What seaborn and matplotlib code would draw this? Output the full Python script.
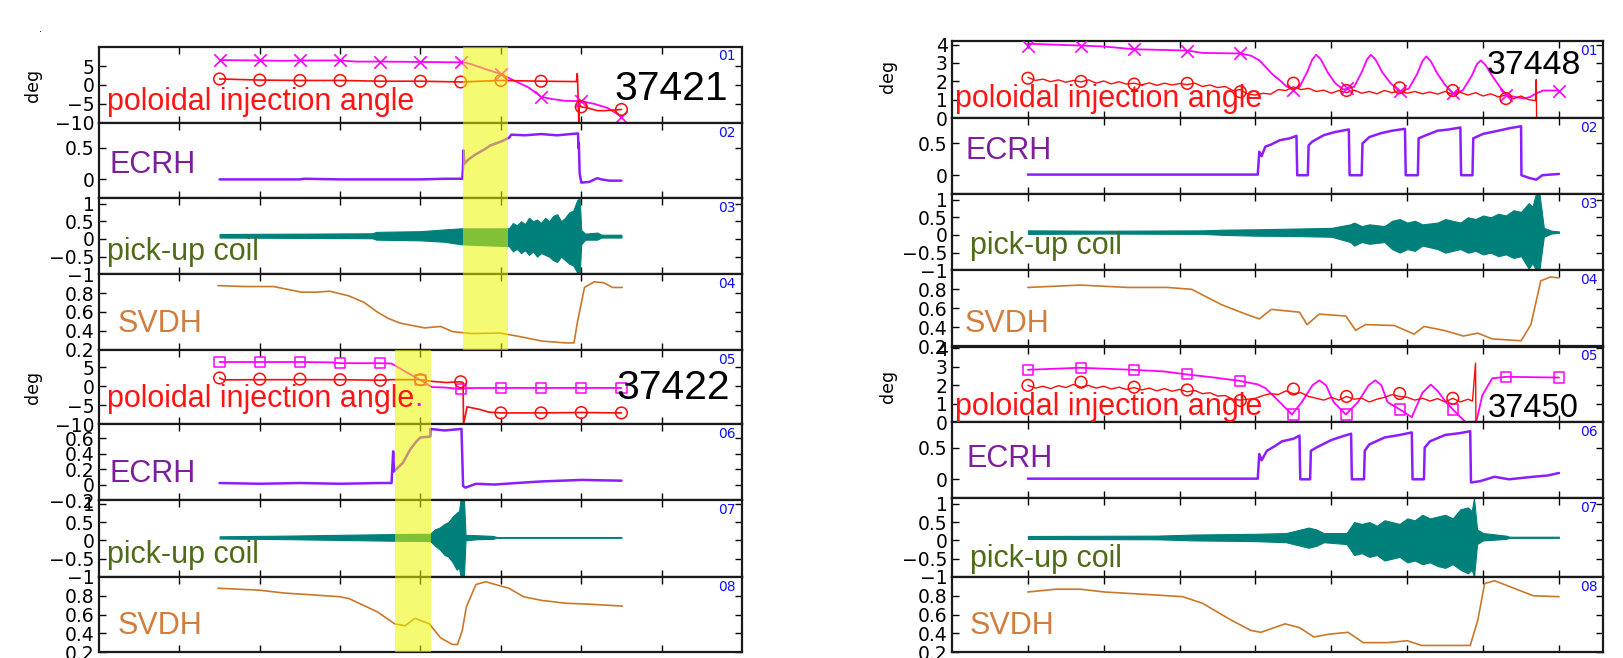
import numpy as np
import matplotlib
matplotlib.use("Agg")
import matplotlib.pyplot as plt
import seaborn as sns
from matplotlib import font_manager
from matplotlib.ticker import FuncFormatter
from matplotlib.patches import Rectangle
from matplotlib.text import Annotation
from matplotlib.transforms import blended_transform_factory

# ======================= DATA (x = time in tick units of each column) =======================
# ---------- shot 37421 ----------
a21_mag_t = [1.5, 2.0, 2.3, 2.5, 3.0, 3.2, 3.5, 4.0, 4.5, 4.56, 4.63, 4.81, 5.0, 5.16, 5.34, 5.5, 5.63, 5.8, 6.0, 6.16, 6.33, 6.5]
a21_mag_v = [6.6, 6.5, 6.4, 6.5, 6.5, 6.2, 6.2, 6.1, 6.0, 5.9, 5.5, 4.2, 2.9, 1.2, -0.6, -3.1, -3.7, -4.2, -4.3, -5.0, -6.1, -8.4]
a21_magm_t = [1.5, 2.0, 2.5, 3.0, 3.5, 4.0, 4.5, 5.0, 5.5, 6.0, 6.5]
a21_magm_v = [6.6, 6.5, 6.5, 6.5, 6.2, 6.1, 6.0, 2.9, -3.1, -4.3, -8.4]
a21_red_t = [1.5, 2.0, 2.5, 2.9, 3.0, 3.5, 4.0, 4.5, 5.0, 5.5, 5.94, 5.95, 5.955, 5.97, 5.975, 6.0, 6.1, 6.2, 6.3, 6.5]
a21_red_v = [1.6, 1.3, 1.2, 1.2, 1.2, 1.0, 1.0, 0.8, 1.2, 1.0, 0.9, 3.0, 0.9, -10, -5.0, -5.8, -6.2, -6.8, -6.8, -6.5]
a21_redm_t = [1.5, 2.0, 2.5, 3.0, 3.5, 4.0, 4.5, 5.0, 5.5, 6.0, 6.5]
a21_redm_v = [1.6, 1.3, 1.2, 1.2, 1.0, 1.0, 0.8, 1.2, 1.0, -5.8, -6.5]
e21_t = [1.5, 2.5, 2.55, 3.0, 3.5, 4.0, 4.3, 4.52, 4.53, 4.535, 4.545, 4.6, 4.69, 4.8, 4.87, 5.0, 5.1, 5.13, 5.3, 5.5, 5.7, 5.96, 5.965, 5.97, 5.98, 6.0, 6.01, 6.1, 6.2, 6.25, 6.35, 6.5]
e21_v = [0.0, 0.0, 0.01, 0.0, 0.0, 0.0, 0.01, 0.01, 0.22, 0.46, 0.25, 0.32, 0.4, 0.48, 0.54, 0.6, 0.66, 0.71, 0.7, 0.72, 0.7, 0.73, 0.5, 0.58, 0.1, -0.05, -0.05, -0.04, 0.02, 0.0, -0.02, -0.02]
p21_t = [1.5, 2.5, 3.4, 3.45, 4.0, 4.3, 4.5, 4.8, 5.1, 5.15, 5.2, 5.25, 5.3, 5.35, 5.4, 5.45, 5.5, 5.55, 5.6, 5.65, 5.7, 5.75, 5.8, 5.85, 5.9, 5.95, 5.98, 6.0, 6.05, 6.2, 6.25, 6.5]
p21_hi = [0.14, 0.15, 0.16, 0.2, 0.22, 0.27, 0.3, 0.3, 0.3, 0.45, 0.38, 0.5, 0.42, 0.6, 0.5, 0.55, 0.45, 0.6, 0.5, 0.65, 0.7, 0.5, 0.6, 0.75, 0.8, 1.1, 1.15, 0.25, 0.15, 0.18, 0.12, 0.12]
p21_lo = [0.04, 0.03, 0.02, -0.02, -0.04, -0.08, -0.15, -0.18, -0.2, -0.35, -0.28, -0.4, -0.32, -0.45, -0.35, -0.5, -0.4, -0.45, -0.5, -0.6, -0.65, -0.5, -0.6, -0.7, -0.75, -0.95, -1.0, -0.15, -0.02, -0.02, 0.04, 0.04]
s21_t = [1.48, 1.8, 2.17, 2.52, 2.7, 2.87, 3.11, 3.3, 3.46, 3.6, 3.75, 4.05, 4.25, 4.40, 4.63, 4.99, 5.22, 5.51, 5.81, 5.91, 5.95, 6.04, 6.16, 6.28, 6.39, 6.51]
s21_v = [0.88, 0.87, 0.87, 0.81, 0.81, 0.82, 0.77, 0.7, 0.6, 0.53, 0.48, 0.43, 0.445, 0.39, 0.37, 0.375, 0.34, 0.29, 0.27, 0.27, 0.48, 0.86, 0.92, 0.91, 0.86, 0.86]

# ---------- shot 37422 ----------
a22_mag_t = [1.5, 2.0, 2.5, 2.9, 3.0, 3.5, 3.64, 3.81, 3.99, 4.14, 4.3, 4.49, 4.6, 5.0, 5.5, 6.0, 6.5]
a22_mag_v = [6.4, 6.4, 6.4, 6.3, 6.1, 6.1, 6.0, 3.9, 1.75, -0.2, -0.3, -0.7, -0.45, -0.42, -0.42, -0.42, -0.42]
a22_magm_t = [1.5, 2.0, 2.5, 3.0, 3.5, 4.0, 4.5, 5.0, 5.5, 6.0, 6.5]
a22_magm_v = [6.4, 6.4, 6.4, 6.1, 6.1, 1.75, -0.7, -0.42, -0.42, -0.42, -0.42]
a22_red_t = [1.5, 1.55, 2.0, 2.5, 3.0, 3.5, 3.66, 4.0, 4.15, 4.32, 4.49, 4.53, 4.535, 4.58, 4.74, 4.85, 5.0, 5.5, 6.0, 6.5]
a22_red_v = [2.2, 1.7, 1.75, 1.75, 1.75, 1.6, 1.76, 1.76, 1.3, 1.0, 1.2, 1.0, -10, -5.4, -6.1, -6.8, -7.0, -7.0, -6.9, -7.0]
a22_redm_t = [1.5, 2.0, 2.5, 3.0, 3.5, 4.0, 4.5, 5.0, 5.5, 6.0, 6.5]
a22_redm_v = [2.2, 1.9, 1.9, 1.75, 1.6, 1.76, 1.2, -7.0, -7.0, -6.9, -7.0]
e22_t = [1.5, 2.0, 2.5, 3.0, 3.5, 3.64, 3.66, 3.665, 3.67, 3.78, 3.87, 3.95, 4.0, 4.12, 4.125, 4.3, 4.51, 4.53, 4.56, 4.69, 4.92, 5.2, 5.5, 6.0, 6.5]
e22_v = [0.02, 0.01, 0.02, 0.01, 0.02, 0.02, 0.43, 0.3, 0.17, 0.28, 0.45, 0.56, 0.61, 0.62, 0.72, 0.7, 0.72, -0.02, -0.04, 0.01, 0.0, 0.02, 0.04, 0.06, 0.05]
p22_t = [1.5, 2.4, 3.0, 3.65, 4.12, 4.18, 4.24, 4.3, 4.35, 4.4, 4.45, 4.48, 4.5, 4.54, 4.56, 4.7, 4.9, 4.95, 6.5]
p22_hi = [0.11, 0.13, 0.15, 0.17, 0.18, 0.3, 0.35, 0.45, 0.5, 0.65, 0.75, 0.8, 1.15, 1.15, 0.15, 0.14, 0.12, 0.09, 0.09]
p22_lo = [0.05, 0.03, 0.01, -0.01, -0.02, -0.15, -0.25, -0.4, -0.45, -0.6, -0.8, -0.75, -1.0, -1.0, 0.0, 0.03, 0.04, 0.07, 0.07]
s22_t = [1.48, 1.99, 2.29, 2.99, 3.11, 3.46, 3.68, 3.81, 3.93, 4.11, 4.25, 4.40, 4.46, 4.52, 4.57, 4.69, 4.81, 4.93, 5.10, 5.28, 5.51, 5.81, 6.10, 6.51]
s22_v = [0.88, 0.86, 0.83, 0.79, 0.77, 0.63, 0.5, 0.48, 0.56, 0.5, 0.35, 0.28, 0.28, 0.43, 0.68, 0.92, 0.95, 0.92, 0.88, 0.79, 0.75, 0.72, 0.71, 0.69]

# ---------- shot 37448 ----------
a48_mag_t = [1.0, 1.7, 2.0, 2.4, 3.1, 3.3, 3.8, 3.94, 4.05, 4.13, 4.22, 4.32, 4.4, 4.48,
             4.58, 4.68, 4.75, 4.8, 4.86, 4.95, 5.05, 5.16,
             5.3, 5.4, 5.47, 5.52, 5.58, 5.67, 5.78, 5.9,
             6.02, 6.13, 6.2, 6.25, 6.31, 6.4, 6.5, 6.6,
             6.73, 6.85, 6.92, 6.97, 7.03, 7.12, 7.22, 7.31,
             7.42, 7.54, 7.62, 7.7, 7.79, 8.0]
a48_mag_v = [4.05, 3.95, 3.9, 3.75, 3.68, 3.55, 3.52, 3.4, 3.15, 2.8, 2.4, 2.06, 1.75, 1.55,
             1.7, 2.5, 3.2, 3.45, 3.2, 2.5, 1.9, 1.55,
             1.7, 2.5, 3.2, 3.45, 3.2, 2.5, 1.9, 1.45,
             1.6, 2.4, 3.1, 3.36, 3.1, 2.4, 1.8, 1.35,
             1.5, 2.3, 2.95, 3.14, 2.9, 2.3, 1.7, 1.25,
             1.15, 1.06, 1.15, 1.34, 1.5, 1.5]
a48_magm_t = [1.0, 1.7, 2.4, 3.1, 3.8, 4.5, 5.2, 5.9, 6.6, 7.3, 8.0]
a48_magm_v = [3.95, 3.95, 3.75, 3.66, 3.52, 1.55, 1.65, 1.45, 1.35, 1.25, 1.5]
a48_red_t = [1.0, 1.1, 1.2, 1.3, 1.4, 1.5, 1.6, 1.7, 1.8, 1.9, 2.0, 2.1, 2.2, 2.3, 2.4, 2.5, 2.6, 2.7,
             2.8, 2.9, 3.0, 3.1, 3.2, 3.3, 3.4, 3.5, 3.6, 3.7, 3.8, 3.9, 4.0, 4.1, 4.2, 4.3, 4.4,
             4.5, 4.6, 4.7, 4.8, 4.9, 5.0, 5.1, 5.2, 5.3, 5.4, 5.5, 5.6, 5.7, 5.8, 5.9, 6.0, 6.1,
             6.2, 6.3, 6.4, 6.5, 6.6, 6.7, 6.8, 6.9, 7.0, 7.1, 7.2, 7.3, 7.4, 7.5, 7.6, 7.69, 7.7, 7.705]
a48_red_v = [2.22, 2.05, 2.12, 1.98, 2.08, 1.95, 2.05, 1.97, 2.08, 1.9, 2.02, 1.86, 1.98, 1.85, 1.9, 1.8, 1.92, 1.78,
             1.9, 1.8, 1.88, 1.82, 1.9, 1.72, 1.8, 1.66, 1.72, 1.5, 1.55, 1.3, 1.25, 1.35, 1.3, 1.55, 1.5,
             1.7, 1.55, 1.62, 1.45, 1.52, 1.35, 1.5, 1.38, 1.52, 1.35, 1.45, 1.32, 1.5, 1.38, 1.5, 1.35, 1.45,
             1.32, 1.42, 1.3, 1.45, 1.28, 1.4, 1.25, 1.38, 1.2, 1.32, 1.15, 1.25, 1.05, 1.2, 1.0, 0.95, 2.1, 0.0]
a48_redm_t = [1.0, 1.7, 2.4, 3.1, 3.8, 4.5, 5.2, 5.9, 6.6, 7.3]
a48_redm_v = [2.17, 2.0, 1.85, 1.89, 1.43, 1.9, 1.5, 1.65, 1.5, 1.06]
e48_t = [1.0, 2.0, 3.0, 4.03, 4.05, 4.08, 4.13, 4.2, 4.32, 4.45, 4.54, 4.55, 4.69, 4.7, 4.75, 4.9, 5.05, 5.23, 5.24, 5.4, 5.41, 5.5,
         5.65, 5.8, 5.97, 5.98, 6.14, 6.15, 6.25, 6.4, 6.55, 6.7, 6.71, 6.86, 6.87, 7.0, 7.2, 7.35, 7.5, 7.505, 7.6, 7.7, 7.78, 8.0]
e48_v = [0.01, 0.01, 0.01, 0.01, 0.37, 0.3, 0.45, 0.48, 0.55, 0.58, 0.62, 0.0, 0.0, 0.47, 0.53, 0.63, 0.68, 0.72, 0.0, 0.0, 0.5, 0.6,
         0.66, 0.7, 0.73, 0.0, 0.0, 0.58, 0.63, 0.7, 0.72, 0.75, 0.0, 0.0, 0.58, 0.65, 0.7, 0.74, 0.77, 0.0, -0.04, -0.07, 0.0, 0.02]
p48_t = [1.0, 2.0, 3.3, 3.6, 4.0, 4.5, 5.0, 5.25, 5.3, 5.4, 5.5, 5.7, 5.8, 5.9, 6.0, 6.1, 6.2, 6.4, 6.5, 6.6, 6.7, 6.8, 6.9, 7.0,
         7.1, 7.2, 7.3, 7.4, 7.5, 7.6, 7.65, 7.7, 7.74, 7.8, 7.9, 8.0]
p48_hi = [0.13, 0.12, 0.13, 0.15, 0.16, 0.18, 0.2, 0.3, 0.35, 0.25, 0.3, 0.25, 0.4, 0.45, 0.35, 0.4, 0.3, 0.35, 0.45, 0.4, 0.35, 0.5,
          0.45, 0.55, 0.5, 0.6, 0.55, 0.7, 0.65, 0.9, 0.8, 1.2, 1.2, 0.2, 0.12, 0.1]
p48_lo = [0.03, 0.04, 0.03, 0.0, -0.02, -0.03, -0.05, -0.2, -0.3, -0.2, -0.25, -0.2, -0.4, -0.5, -0.4, -0.45, -0.3, -0.4, -0.5, -0.45,
          -0.4, -0.5, -0.45, -0.55, -0.5, -0.6, -0.55, -0.65, -0.6, -0.95, -0.8, -1.0, -1.0, -0.05, 0.04, 0.06]
s48_t = [1.0, 1.69, 2.32, 2.84, 3.16, 3.55, 3.87, 4.05, 4.21, 4.58, 4.68, 4.84, 5.19, 5.32, 5.45, 5.83, 6.09, 6.22, 6.48, 6.74, 6.93, 7.12, 7.50, 7.63, 7.76, 7.89, 8.0]
s48_v = [0.82, 0.845, 0.82, 0.82, 0.8, 0.64, 0.54, 0.49, 0.59, 0.56, 0.43, 0.54, 0.52, 0.37, 0.43, 0.42, 0.33, 0.41, 0.37, 0.31, 0.34, 0.28, 0.26, 0.43, 0.89, 0.93, 0.92]

# ---------- shot 37450 ----------
a50_mag_t = [1.0, 1.69, 2.0, 2.38, 2.8, 3.07, 3.4, 3.78, 4.03, 4.13, 4.32, 4.48, 4.61, 4.75, 4.84, 4.93, 5.03, 5.19, 5.35, 5.49, 5.58,
             5.66, 5.74, 5.9, 6.06, 6.2, 6.31, 6.4, 6.51, 6.6, 6.77, 6.91, 6.99, 7.12, 7.31, 8.0]
a50_mag_v = [2.84, 2.95, 2.9, 2.84, 2.75, 2.6, 2.45, 2.25, 2.05, 1.85, 1.09, 0.42, 1.09, 2.0, 2.27, 2.0, 1.09, 0.42, 1.09, 2.0, 2.27,
             2.0, 1.09, 0.7, 0.28, 1.6, 2.04, 1.7, 1.09, 0.7, 0.0, 0.04, 1.47, 2.38, 2.46, 2.42]
a50_magm_t = [1.0, 1.7, 2.4, 3.1, 3.8, 4.5, 5.2, 5.9, 6.6, 7.3, 8.0]
a50_magm_v = [2.84, 2.95, 2.84, 2.6, 2.23, 0.42, 0.42, 0.7, 0.7, 2.46, 2.42]
a50_red_t = [1.0, 1.1, 1.2, 1.3, 1.4, 1.5, 1.6, 1.7, 1.8, 1.9, 2.0, 2.1, 2.2, 2.3, 2.4, 2.5, 2.6, 2.7, 2.8, 2.9, 3.0, 3.1, 3.2,
             3.3, 3.4, 3.5, 3.6, 3.7, 3.8, 3.9, 4.0, 4.1, 4.2, 4.3, 4.4, 4.5, 4.6, 4.7, 4.8, 4.9, 5.0, 5.1, 5.2, 5.3, 5.4, 5.5,
             5.6, 5.7, 5.8, 5.9, 6.0, 6.1, 6.2, 6.3, 6.4, 6.5, 6.6, 6.7, 6.8, 6.86, 6.9, 6.905]
a50_red_v = [2.0, 1.85, 1.95, 1.82, 1.98, 1.88, 2.05, 1.9, 2.0, 1.85, 1.95, 1.8, 1.9, 1.78, 1.88, 1.75, 1.85, 1.7, 1.82, 1.68, 1.78,
             1.65, 1.72, 1.55, 1.6, 1.42, 1.45, 1.25, 1.2, 1.25, 1.3, 1.45, 1.55, 1.5, 1.7, 1.55, 1.6, 1.4, 1.3, 1.2, 1.35, 1.2,
             1.4, 1.25, 1.3, 1.1, 1.25, 1.35, 1.5, 1.4, 1.35, 1.2, 1.3, 1.15, 1.28, 1.1, 1.3, 1.1, 1.25, 1.15, 3.2, 0.0]
a50_redm_t = [1.0, 1.7, 2.4, 3.1, 3.8, 4.5, 5.2, 5.9, 6.6]
a50_redm_v = [2.0, 2.17, 1.9, 1.75, 1.18, 1.8, 1.4, 1.56, 1.3]
e50_t = [1.0, 2.0, 3.0, 4.03, 4.05, 4.08, 4.15, 4.25, 4.35, 4.5, 4.58, 4.59, 4.72, 4.73, 4.8, 5.0, 5.15, 5.26, 5.27, 5.43, 5.44,
         5.5, 5.7, 5.9, 6.06, 6.07, 6.22, 6.23, 6.3, 6.5, 6.7, 6.83, 6.84, 6.96, 7.15, 7.34, 7.5, 7.66, 7.85, 8.0]
e50_v = [0.01, 0.01, 0.01, 0.01, 0.4, 0.3, 0.45, 0.52, 0.6, 0.64, 0.69, 0.0, 0.0, 0.45, 0.5, 0.62, 0.68, 0.72, 0.0, 0.0, 0.45,
         0.55, 0.66, 0.7, 0.74, 0.0, 0.0, 0.5, 0.6, 0.7, 0.73, 0.76, -0.05, -0.03, 0.04, 0.0, 0.02, 0.04, 0.06, 0.1]
p50_t = [1.0, 2.7, 3.2, 4.0, 4.4, 4.6, 4.7, 4.8, 4.9, 5.2, 5.3, 5.4, 5.5, 5.6, 5.7, 5.8, 5.9, 6.0, 6.1, 6.2, 6.3, 6.4, 6.5,
         6.6, 6.7, 6.8, 6.85, 6.88, 6.92, 7.0, 7.3, 7.35, 8.0]
p50_hi = [0.12, 0.13, 0.16, 0.18, 0.2, 0.3, 0.35, 0.3, 0.2, 0.2, 0.5, 0.45, 0.5, 0.4, 0.55, 0.5, 0.45, 0.6, 0.55, 0.7, 0.6, 0.65,
          0.7, 0.6, 0.85, 0.9, 0.8, 1.15, 0.3, 0.2, 0.13, 0.1, 0.1]
p50_lo = [0.04, 0.03, 0.0, -0.02, -0.05, -0.15, -0.2, -0.15, -0.05, -0.1, -0.4, -0.35, -0.45, -0.4, -0.55, -0.5, -0.45, -0.6,
          -0.55, -0.65, -0.6, -0.7, -0.75, -0.65, -0.8, -0.9, -0.8, -1.0, -0.1, 0.0, 0.04, 0.07, 0.07]
s50_t = [1.0, 1.37, 1.69, 2.01, 2.65, 3.04, 3.30, 3.68, 3.94, 4.07, 4.39, 4.58, 4.77, 4.97, 5.22, 5.42, 5.74, 6.0, 6.19, 6.51, 6.83, 6.93, 7.02, 7.15, 7.28, 7.66, 8.0]
s50_v = [0.84, 0.87, 0.87, 0.84, 0.81, 0.79, 0.72, 0.54, 0.43, 0.41, 0.5, 0.46, 0.36, 0.39, 0.41, 0.3, 0.3, 0.32, 0.27, 0.27, 0.27, 0.54, 0.93, 0.96, 0.92, 0.8, 0.79]

# highlighted time windows
hl21 = (4.53, 5.09)
hl22 = (3.68, 4.13)

panel_tags = ["01", "02", "03", "04", "05", "06", "07", "08"]

# ======================= STYLE =======================
W, H, DPI = 1624, 658, 100
sns.set_theme(style="white")
plt.rcParams['font.family'] = ['DejaVu Sans']
plt.rcParams['axes.unicode_minus'] = True

C_RED = '#ff0a0a'
C_MAG = '#ff00ff'
C_ECRH = '#8a1eff'
C_COIL = '#00807a'
C_SVDH = '#c9782a'
C_HL = (237/255, 246/255, 0/255)

names = {f.name for f in font_manager.fontManager.ttflist}
if 'Liberation Sans Narrow' in names:
    SHOT_FAM, SHOT_SCALE = 'Liberation Sans Narrow', 1.0
else:
    SHOT_FAM, SHOT_SCALE = 'Liberation Sans', 0.84
LAB_FAM = 'Liberation Sans'

fig = plt.figure(figsize=(W / DPI, H / DPI), dpi=DPI)
fig.patch.set_facecolor('white')


def add_ax(x0, x1, y0, y1):
    return fig.add_axes([x0 / W, 1 - y1 / H, (x1 - x0) / W, (y1 - y0) / H])


def ftext(x, y, s, **kw):
    return fig.text(x / W, 1 - y / H, s, **kw)


fmt = FuncFormatter(lambda v, p: f"{v:g}".replace('-', '\u2212'))

LEFT_X = (99, 742)
RIGHT_X = (952, 1603)
LEFT_Y = [46.5, 122.7, 198.3, 274.3, 349.5, 424.3, 500, 577, 652]
RIGHT_Y = [41, 118, 194.3, 270.3, 346.5, 422.3, 498.3, 577, 652]

cols = {
    'L': dict(X=LEFT_X, Y=LEFT_Y, xmax=8.0, xticks=[1, 2, 3, 4, 5, 6, 7]),
    'R': dict(X=RIGHT_X, Y=RIGHT_Y, xmax=8.58, xticks=[1, 2, 3, 4, 5, 6, 7, 8]),
}

ylims = {
    'L': [(-10, 10.2), (-0.3, 0.9), (-1, 1.15), (0.2, 1.0), (-10, 9.7), (-0.2, 0.78), (-1, 1.1), (0.2, 1.0)],
    'R': [(0, 4.2), (-0.3, 0.9), (-1, 1.15), (0.2, 1.0), (0, 4.1), (-0.3, 0.9), (-1, 1.15), (0.2, 1.0)],
}
yticks = {
    'L': [[-10, -5, 0, 5], [0, 0.5], [-1, -0.5, 0, 0.5, 1], [0.2, 0.4, 0.6, 0.8],
          [-10, -5, 0, 5], [-0.2, 0, 0.2, 0.4, 0.6], [-1, -0.5, 0, 0.5, 1], [0.2, 0.4, 0.6, 0.8]],
    'R': [[0, 1, 2, 3, 4], [0, 0.5], [-1, -0.5, 0, 0.5, 1], [0.2, 0.4, 0.6, 0.8],
          [0, 1, 2, 3, 4], [0, 0.5], [-1, -0.5, 0, 0.5, 1], [0.2, 0.4, 0.6, 0.8]],
}

axes = {}
for key, c in cols.items():
    axes[key] = []
    for i in range(8):
        ax = add_ax(c['X'][0], c['X'][1], c['Y'][i], c['Y'][i + 1])
        ax.set_facecolor('white')
        ax.set_xlim(0, c['xmax'])
        ax.set_ylim(*ylims[key][i])
        ax.set_xticks(c['xticks'])
        ax.set_yticks(yticks[key][i])
        ax.yaxis.set_major_formatter(fmt)
        ax.tick_params(axis='both', which='major', direction='in', length=5, width=1,
                       bottom=True, top=True, left=True, right=True,
                       labelbottom=False, labelleft=True, labelsize=13.5, pad=3, colors='black')
        for s in ax.spines.values():
            s.set_linewidth(1.6)
            s.set_color('#1a1a1a')
        axes[key].append(ax)


def line(ax, t, v, color, lw):
    sns.lineplot(x=t, y=v, ax=ax, color=color, linewidth=lw, estimator=None, sort=False, legend=False)


def marks(ax, t, v, color, marker, size):
    if marker == 'x':
        sns.scatterplot(x=t, y=v, ax=ax, marker='x', s=size, color=color, linewidth=1.2, zorder=4, legend=False)
    else:
        sns.scatterplot(x=t, y=v, ax=ax, marker=marker, s=size, color=color, facecolors='none',
                        edgecolor=color, linewidth=1.1, zorder=4, legend=False)


def coil(ax, t, hi, lo):
    ax.fill_between(t, lo, hi, color=C_COIL, linewidth=0.8, zorder=2)


L, R = axes['L'], axes['R']

# ---- 37421 ----
line(L[0], a21_mag_t, a21_mag_v, C_MAG, 1.3)
marks(L[0], a21_magm_t, a21_magm_v, C_MAG, 'x', 80)
line(L[0], a21_red_t, a21_red_v, C_RED, 1.2)
marks(L[0], a21_redm_t, a21_redm_v, C_RED, 'o', 70)
line(L[1], e21_t, e21_v, C_ECRH, 1.8)
coil(L[2], p21_t, p21_hi, p21_lo)
line(L[3], s21_t, s21_v, C_SVDH, 1.2)
# ---- 37422 ----
line(L[4], a22_mag_t, a22_mag_v, C_MAG, 1.3)
marks(L[4], a22_magm_t, a22_magm_v, C_MAG, 's', 55)
line(L[4], a22_red_t, a22_red_v, C_RED, 1.2)
marks(L[4], a22_redm_t, a22_redm_v, C_RED, 'o', 70)
line(L[5], e22_t, e22_v, C_ECRH, 1.8)
coil(L[6], p22_t, p22_hi, p22_lo)
line(L[7], s22_t, s22_v, C_SVDH, 1.2)
# ---- 37448 ----
line(R[0], a48_mag_t, a48_mag_v, C_MAG, 1.3)
marks(R[0], a48_magm_t, a48_magm_v, C_MAG, 'x', 80)
line(R[0], a48_red_t, a48_red_v, C_RED, 1.0)
marks(R[0], a48_redm_t, a48_redm_v, C_RED, 'o', 70)
line(R[1], e48_t, e48_v, C_ECRH, 1.8)
coil(R[2], p48_t, p48_hi, p48_lo)
line(R[3], s48_t, s48_v, C_SVDH, 1.2)
# ---- 37450 ----
line(R[4], a50_mag_t, a50_mag_v, C_MAG, 1.3)
marks(R[4], a50_magm_t, a50_magm_v, C_MAG, 's', 55)
line(R[4], a50_red_t, a50_red_v, C_RED, 1.0)
marks(R[4], a50_redm_t, a50_redm_v, C_RED, 'o', 70)
line(R[5], e50_t, e50_v, C_ECRH, 1.8)
coil(R[6], p50_t, p50_hi, p50_lo)
line(R[7], s50_t, s50_v, C_SVDH, 1.2)

for ax in L + R:
    ax.set_xlabel('')
    ax.set_ylabel('')

# ---- yellow highlight windows (over data and spines, under text) ----
for (t0, t1), ytop, ybot in [(hl21, LEFT_Y[0], LEFT_Y[4]), (hl22, LEFT_Y[4], LEFT_Y[8])]:
    tr = blended_transform_factory(L[0].transData, fig.transFigure)
    rect = Rectangle((t0, 1 - ybot / H), t1 - t0, (ybot - ytop) / H, transform=tr,
                     facecolor=C_HL, alpha=0.55, edgecolor='none', zorder=1)
    fig.add_artist(rect)

# ---- panel labels ----
LAB = dict(family=LAB_FAM, fontsize=22, va='baseline', ha='left')
ftext(107, 110, 'poloidal injection angle', color='#ff1414', **LAB)
ftext(110, 173, 'ECRH', color='#7d1e9a', **LAB)
ftext(107, 260, 'pick-up coil', color='#4e6b18', **LAB)
ftext(118, 331.5, 'SVDH', color='#d27d3c', **LAB)
t22 = ftext(107, 406.5, 'poloidal injection angle', color='#ff1414', **LAB)
dot = Annotation('.', xy=(1, 0), xycoords=t22, va='bottom', ha='left',
                 color=C_MAG, family=LAB_FAM, fontsize=22)
dot.set_zorder(3)
fig.add_artist(dot)
ftext(110, 481.5, 'ECRH', color='#7d1e9a', **LAB)
ftext(107, 563, 'pick-up coil', color='#4e6b18', **LAB)
ftext(118, 634, 'SVDH', color='#d27d3c', **LAB)

ftext(955, 106.5, 'poloidal injection angle', color='#ff1414', **LAB)
ftext(966, 159, 'ECRH', color='#7d1e9a', **LAB)
ftext(970, 254, 'pick-up coil', color='#4e6b18', **LAB)
ftext(965, 331.5, 'SVDH', color='#d27d3c', **LAB)
ftext(955, 415, 'poloidal injection angle', color='#ff1414', **LAB)
ftext(967, 467, 'ECRH', color='#7d1e9a', **LAB)
ftext(970, 567, 'pick-up coil', color='#4e6b18', **LAB)
ftext(970, 634, 'SVDH', color='#d27d3c', **LAB)

# ---- shot numbers ----
SH = dict(family=SHOT_FAM, va='baseline', ha='right', color='black')
ftext(728, 100, '37421', fontsize=35 * SHOT_SCALE, **SH)
ftext(730, 399, '37422', fontsize=35 * SHOT_SCALE, **SH)
ftext(1581, 74, '37448', fontsize=29 * SHOT_SCALE, **SH)
ftext(1579, 417, '37450', fontsize=28 * SHOT_SCALE, **SH)

# ---- small blue panel tags ----
for key, xc in (('L', 727), ('R', 1589)):
    Y = cols[key]['Y']
    for i, tag in enumerate(panel_tags):
        ftext(xc, Y[i] + 10, tag, color='#1010ff', fontsize=10, ha='center', va='center')

# ---- "deg" axis labels ----
for x, y in ((33, 85), (33, 387), (888, 76), (888, 386)):
    ftext(x, y, 'deg', rotation=90, ha='center', va='center', fontsize=12.5, color='black')

ftext(41, 32, '.', fontsize=7, ha='center', va='baseline', color='black')

fig.savefig('out.png', dpi=DPI, facecolor='white')
